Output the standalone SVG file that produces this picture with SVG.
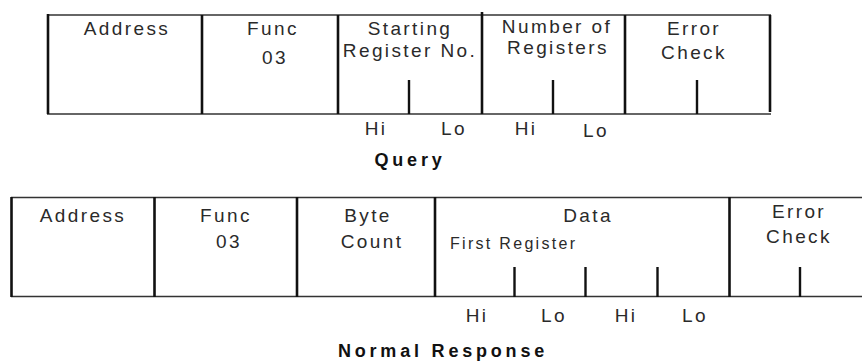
<svg xmlns="http://www.w3.org/2000/svg" width="862" height="363" viewBox="0 0 862 363">
<style>
.t{font-family:"Liberation Sans",Arial,sans-serif;font-size:19px;fill:#2a2a2a;letter-spacing:2.4px;text-anchor:middle}
.s{font-size:16px;letter-spacing:2.3px;text-anchor:start}
.b{font-weight:bold;fill:#111;font-size:18px;letter-spacing:3.8px}
.h{stroke:#333;stroke-width:1.6;fill:none}
.v{stroke:#111;stroke-width:2.6;fill:none}
.k{stroke:#111;stroke-width:2.4;fill:none}
</style>
<rect width="862" height="363" fill="#fff"/>
<g id="connectors">
<line class="h" x1="47" y1="15" x2="771" y2="15"/>
<line class="h" x1="47" y1="114" x2="771" y2="114"/>
<line class="v" x1="48" y1="14" x2="48" y2="114"/>
<line class="v" x1="202" y1="15" x2="202" y2="114"/>
<line class="v" x1="338" y1="15" x2="338" y2="114"/>
<line class="v" x1="482" y1="12" x2="482" y2="114"/>
<line class="v" x1="625" y1="15" x2="625" y2="114"/>
<line class="v" x1="770" y1="15" x2="770" y2="112"/>
<line class="k" x1="409" y1="80" x2="409" y2="114"/>
<line class="k" x1="553" y1="80" x2="553" y2="114"/>
<line class="k" x1="697" y1="80" x2="697" y2="114"/>
<line class="h" x1="11" y1="197.5" x2="862" y2="197.5"/>
<line class="h" x1="11" y1="296.5" x2="862" y2="296.5"/>
<line class="v" x1="11.5" y1="197" x2="11.5" y2="297"/>
<line class="v" x1="154.5" y1="197" x2="154.5" y2="297"/>
<line class="v" x1="297" y1="197" x2="297" y2="297"/>
<line class="v" x1="435" y1="197" x2="435" y2="297"/>
<line class="v" x1="729.5" y1="197" x2="729.5" y2="297"/>
<line class="k" x1="514.5" y1="267" x2="514.5" y2="297"/>
<line class="k" x1="585.5" y1="267" x2="585.5" y2="297"/>
<line class="k" x1="657.5" y1="267" x2="657.5" y2="297"/>
<line class="k" x1="800" y1="267" x2="800" y2="297"/>
</g>
<g id="query">
<g id="q-address"><text class="t" x="127" y="35">Address</text></g>
<g id="q-func"><text class="t" x="273" y="35">Func</text><text class="t" x="275" y="64">03</text></g>
<g id="q-start"><text class="t" x="410" y="35">Starting</text><text class="t" x="410" y="57">Register No.</text></g>
<g id="q-num"><text class="t" x="557" y="33">Number of</text><text class="t" x="558" y="54">Registers</text></g>
<g id="q-err"><text class="t" x="694" y="35">Error</text><text class="t" x="694" y="59">Check</text></g>
<g id="q-hilo"><text class="t" x="376" y="135">Hi</text><text class="t" x="454" y="135">Lo</text><text class="t" x="526" y="135">Hi</text><text class="t" x="596" y="137">Lo</text></g>
<g id="q-title"><text class="t b" x="410" y="166">Query</text></g>
</g>
<g id="response">
<g id="r-address"><text class="t" x="83" y="222">Address</text></g>
<g id="r-func"><text class="t" x="226" y="222">Func</text><text class="t" x="229" y="248">03</text></g>
<g id="r-byte"><text class="t" x="368" y="222">Byte</text><text class="t" x="372" y="248">Count</text></g>
<g id="r-data"><text class="t" x="588" y="222">Data</text><text class="t s" x="450" y="249">First Register</text></g>
<g id="r-err"><text class="t" x="799" y="218">Error</text><text class="t" x="799" y="243">Check</text></g>
<g id="r-hilo"><text class="t" x="477" y="322">Hi</text><text class="t" x="554" y="322">Lo</text><text class="t" x="626" y="322">Hi</text><text class="t" x="695" y="322">Lo</text></g>
<g id="r-title"><text class="t b" x="443" y="357">Normal Response</text></g>
</g>
</svg>
